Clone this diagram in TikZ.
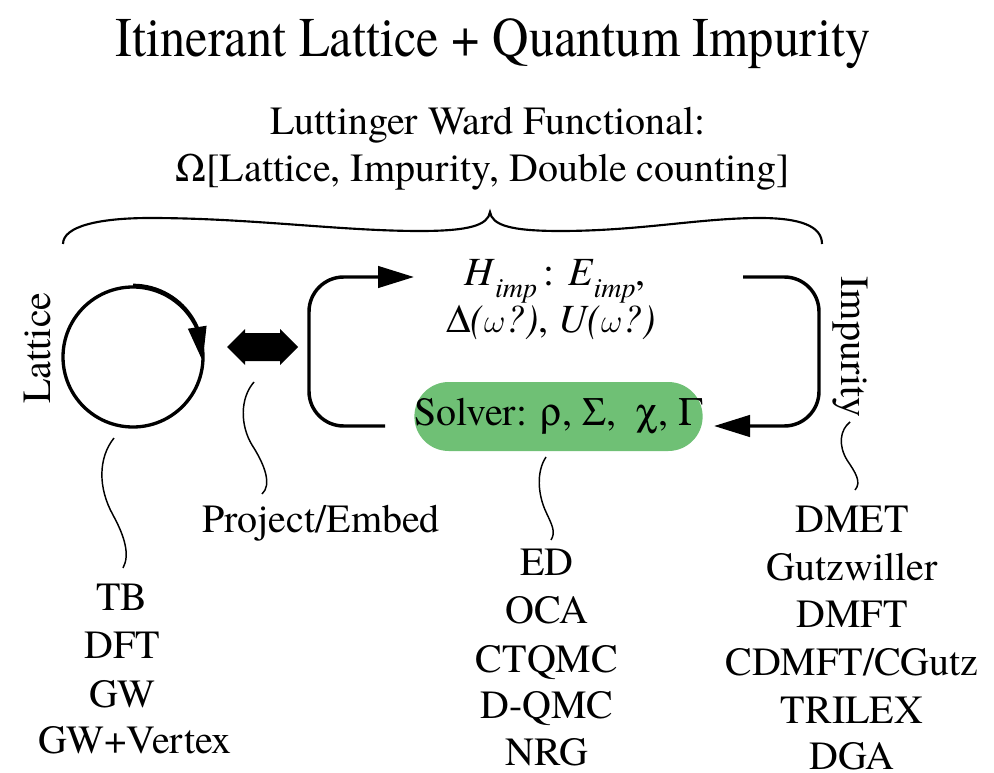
\documentclass[tikz,border=0pt]{standalone}
\usepackage[Symbol]{upgreek}
\usepackage{fontspec}
\setmainfont{TeX Gyre Termes}
\newfontfamily\titlefont[FakeStretch=0.9]{TeX Gyre Termes}
\usetikzlibrary{arrows.meta,bending}
\definecolor{solvergreen}{RGB}{111,192,117}
\begin{document}
\begin{tikzpicture}[x=0.75pt,y=-0.75pt,
  txt/.style={inner sep=0pt, font=\fontsize{30}{36}\selectfont},
  thickline/.style={line width=2.6pt},
  squig/.style={line width=1.1pt},
  tri/.style={-{Triangle[length=27pt,width=16pt]}}]
\useasboundingbox (0,0) rectangle (994,773);

% titles
\node[txt, anchor=base, font=\titlefont\fontsize{42}{48}\selectfont] (title) at (493,57) {Itinerant Lattice + Quantum Impurity};
\node[txt, anchor=base] (lw1) at (488,135) {Luttinger Ward Functional:};
\node[txt, anchor=base] (lw2) at (483,182) {$\Upomega$[Lattice, Impurity, Double counting]};

% brace
\draw[line width=1.6pt] (63,244) .. controls (63,226) and (100,218) .. (150,218)
  .. controls (250,218) and (340,231) .. (420,231)
  .. controls (470,231) and (488,225) .. (490,212)
  .. controls (492,225) and (510,231) .. (560,231)
  .. controls (640,231) and (700,218) .. (760,218)
  .. controls (800,218) and (822,226) .. (822,244);

% lattice circle
\node[draw, circle, line width=2.5pt, minimum size=105pt, inner sep=0pt] (lat) at (133,357) {};
\draw[line width=2.5pt, -{Triangle[length=26pt,width=13.5pt,flex]}] (lat.north) arc[start angle=-90, end angle=5, radius=70];
\node[txt, rotate=90, anchor=base] (latlbl) at (50,348) {Lattice};

% project / embed double arrow
\coordinate (pe) at (262,347);
\fill (227,347) -- (245,329) -- (245,333) -- (280,333) -- (280,329) -- (298,347)
  -- (280,365) -- (280,361) -- (245,361) -- (245,365) -- cycle;

% impurity hamiltonian
\node[txt, anchor=base] (himp1) at (555,286) {\textit{H}\raisebox{-0.3em}{\fontsize{21}{21}\selectfont\textit{imp}}\,: \textit{E}\raisebox{-0.3em}{\fontsize{21}{21}\selectfont\textit{imp}},};
\node[txt, anchor=base] (himp2) at (551,332) {$\Updelta$\textit{(}$\omega$\textit{?)}, \textit{U(}$\omega$\textit{?)}};

% solver
\node[txt, fill=solvergreen, rounded corners=25.8pt, minimum width=215pt, minimum height=51.75pt] (solver) at (558.5,416.5) {Solver: $\uprho$, $\Upsigma$,\ \ $\upchi$, $\Upgamma$};

\node[txt, rotate=-90, anchor=base] (implbl) at (841,347) {Impurity};

% loop connectors
\coordinate (la) at (385,426);
\coordinate (lb) at (414,277);
\coordinate (ra) at (743,277);
\coordinate (rb) at (714,426);
\draw[thickline, rounded corners=26pt, tri] (la) -- (309,426) -- (309,277) -- (lb);
\draw[thickline, rounded corners=26pt, tri] (ra) -- (819,277) -- (819,426) -- (rb);

% labels
\node[txt, anchor=base] (proj) at (321,532) {Project/Embed};

\node[txt, anchor=base] (tb) at (122,610) {TB};
\node[txt, anchor=base] (dft) at (122,658) {DFT};
\node[txt, anchor=base] (gw) at (122,707) {GW};
\node[txt, anchor=base] (gwv) at (135,753) {GW+Vertex};

\node[txt, anchor=base] (ed) at (547,575) {ED};
\node[txt, anchor=base] (oca) at (547,623) {OCA};
\node[txt, anchor=base] (ctqmc) at (547,672) {CTQMC};
\node[txt, anchor=base] (dqmc) at (547,718) {D-QMC};
\node[txt, anchor=base] (nrg) at (547,765) {NRG};

\node[txt, anchor=base] (dmet) at (852,532) {DMET};
\node[txt, anchor=base] (gutz) at (852,580) {Gutzwiller};
\node[txt, anchor=base] (dmft) at (852,627) {DMFT};
\node[txt, anchor=base] (cdmft) at (852,675) {CDMFT/CGutz};
\node[txt, anchor=base] (trilex) at (852,723) {TRILEX};
\node[txt, anchor=base] (dga) at (852,769) {DGA};

% squiggles
\coordinate (s1a) at (114,438); \coordinate (s1b) at (123,568);
\draw[squig] (s1a) .. controls (98,458) and (98,488) .. (113,515) .. controls (125,537) and (130,555) .. (s1b);
\coordinate (s2a) at (254,382); \coordinate (s2b) at (262,494);
\draw[squig] (s2a) .. controls (240,398) and (240,425) .. (252,445) .. controls (265,465) and (272,485) .. (s2b);
\coordinate (s3a) at (546,457); \coordinate (s3b) at (551,540);
\draw[squig] (s3a) .. controls (536,472) and (538,495) .. (546,512) .. controls (552,525) and (556,532) .. (s3b);
\coordinate (s4a) at (850,422); \coordinate (s4b) at (855,490);
\draw[squig] (s4a) .. controls (840,430) and (838,445) .. (847,460) .. controls (855,472) and (862,482) .. (s4b);
\end{tikzpicture}
\end{document}
